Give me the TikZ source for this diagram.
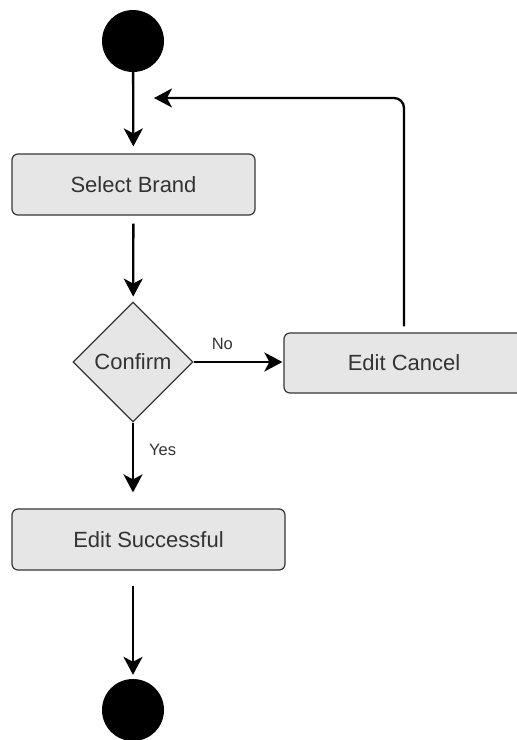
\documentclass[tikz,border=0pt]{standalone}
\usepackage{fontspec}
\setmainfont{Liberation Sans}
\usetikzlibrary{shapes.geometric,arrows.meta}

\definecolor{boxfill}{HTML}{E6E6E6}
\definecolor{boxline}{HTML}{363636}
\definecolor{ink}{HTML}{333333}

\tikzset{
  state/.style={circle, fill=black, draw=none, minimum size=62pt, inner sep=0pt},
  action/.style={rectangle, rounded corners=6pt, draw=boxline, line width=1.2pt,
    fill=boxfill, text=ink, font=\fontsize{22}{26}\selectfont, inner sep=0pt},
  decision/.style={diamond, draw=boxline, line width=1.2pt, fill=boxfill, text=ink,
    font=\fontsize{22}{26}\selectfont, inner sep=0pt, minimum width=120pt, minimum height=120pt},
  flow/.style={draw=black, line width=2.3pt,
    -{Stealth[length=18pt, width=19pt, inset=5pt]}},
  guard/.style={text=ink, font=\fontsize{16.5}{20}\selectfont, inner sep=0pt}
}

\begin{document}
\begin{tikzpicture}[x=1pt, y=-1pt]
  \useasboundingbox (0,0) rectangle (517,740);

  % initial and final states
  \node[state] (start) at (133,41) {};
  \node[state] (stop)  at (133,710) {};

  % actions and decision
  \node[action, minimum width=243pt, minimum height=61pt] (select) at (133.5,184.5) {Select Brand};
  \node[decision] (confirm) at (133,362) {Confirm};
  \node[action, minimum width=240pt, minimum height=60pt] (cancel) at (404,363) {Edit Cancel};
  \node[action, minimum width=273pt, minimum height=61pt] (success) at (148.5,539.5) {Edit Successful};

  % free end of the loop back
  \coordinate (back) at (154,98);

  % control flow
  \draw[flow, shorten >=7pt] (start) -- (select);
  \draw[flow, shorten <=8pt, shorten >=5pt] (select) -- (confirm);
  \draw[flow, shorten >=1pt] (confirm.east) -- (cancel.west |- confirm.east)
    node[guard, pos=0.32, above=11pt] (no) {No};
  \draw[flow, shorten >=16pt] (confirm.south) -- (success.north -| confirm.south)
    node[guard, pos=0.32, right=15pt] (yes) {Yes};
  \draw[flow, shorten <=15pt, shorten >=4pt] (success.south -| stop) -- (stop);
  \draw[flow, rounded corners=10pt, shorten <=6pt] (cancel.north) |- (back);
\end{tikzpicture}
\end{document}
